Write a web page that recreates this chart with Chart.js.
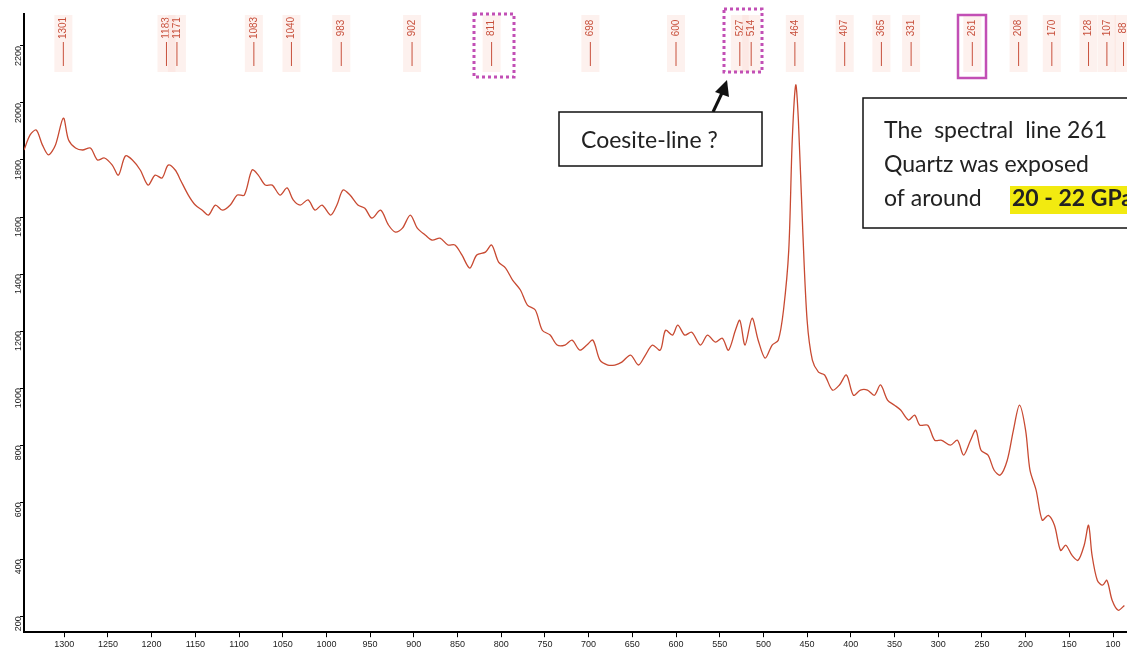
<!DOCTYPE html>
<html><head><meta charset="utf-8">
<script src="https://cdn.jsdelivr.net/npm/chart.js@4"></script>
<style>body{margin:0;background:#fff}canvas{display:block}</style>
</head><body>
<canvas id="c" width="1127" height="652"></canvas>
<script>
// spectrum trace
const wavenumbers = [1346,1339,1332,1325,1318,1310,1301,1295,1287,1279,1270,1262,1254,1245,1238,1230,1222,1213,1204,1196,1188,1181,1173,1167,1158,1150,1142,1135,1127,1119,1110,1102,1094,1085,1078,1070,1062,1053,1045,1038,1030,1021,1013,1005,995,988,981,973,964,956,948,938,929,921,913,904,896,887,879,870,861,853,845,836,828,818,811,803,795,787,778,770,761,753,744,736,727,719,710,702,695,687,678,670,662,652,643,635,627,618,612,604,598,590,582,572,564,555,547,540,532,527,521,513,506,498,490,483,477,471,467,463,460,455,450,444,437,430,421,413,405,397,389,381,373,366,358,350,343,334,327,321,312,304,296,286,278,271,263,257,251,243,236,229,221,214,207,200,195,188,181,174,167,160,154,147,140,133,128,124,118,112,107,101,94,87];
const intensity = [1835,1888,1905,1853,1818,1853,1947,1870,1842,1835,1842,1800,1807,1782,1747,1814,1800,1765,1712,1747,1737,1782,1765,1730,1677,1642,1624,1607,1642,1624,1642,1677,1677,1765,1747,1712,1712,1677,1702,1660,1642,1660,1624,1642,1607,1642,1695,1677,1642,1631,1596,1624,1572,1547,1561,1607,1561,1537,1519,1526,1502,1502,1467,1421,1467,1477,1502,1442,1421,1379,1344,1291,1274,1203,1186,1151,1151,1168,1133,1151,1168,1098,1081,1081,1091,1116,1081,1116,1151,1133,1203,1186,1221,1186,1196,1151,1186,1161,1175,1133,1203,1238,1151,1245,1168,1105,1151,1168,1274,1484,1870,2063,1940,1554,1238,1098,1056,1046,993,1011,1046,975,993,993,975,1011,958,940,923,888,905,870,870,817,817,800,817,765,817,852,782,765,712,695,747,852,940,852,712,642,537,554,519,431,449,414,396,449,519,414,326,309,326,256,221,238];
const peakLabels = [1301,1183,1171,1083,1040,983,902,811,698,600,527,514,464,407,365,331,261,208,170,128,107,88];
const xTicks = [1300,1250,1200,1150,1100,1050,1000,950,900,850,800,750,700,650,600,550,500,450,400,350,300,250,200,150,100];
const yTicks = [200,400,600,800,1000,1200,1400,1600,1800,2000,2200];

const peakPlugin = {
  id: 'peaks',
  afterDatasetsDraw(chart) {
    const c = chart.ctx, xs = chart.scales.x;
    c.save();
    c.font = '10px "Liberation Sans"';
    c.textAlign = 'center'; c.textBaseline = 'middle';
    peakLabels.forEach(p => {
      const x = xs.getPixelForValue(p);
      c.fillStyle = 'rgba(250,220,212,0.4)';
      c.fillRect(x - 9, 15, 18, 57);
      c.strokeStyle = '#c8503c'; c.lineWidth = 1;
      c.beginPath(); c.moveTo(x, 42); c.lineTo(x, 66); c.stroke();
      c.save(); c.translate(x, 28); c.rotate(-Math.PI / 2);
      c.fillStyle = '#c8503c'; c.fillText(String(p), 0, 0); c.restore();
    });
    // annotation boxes
    c.strokeStyle = '#c24fb5'; c.lineWidth = 3; c.setLineDash([3, 3]);
    c.strokeRect(474, 14, 40, 63);
    c.strokeRect(724, 9, 38, 63);
    c.setLineDash([]); c.lineWidth = 2.5;
    c.strokeRect(958, 15, 28, 63);
    // arrow
    c.strokeStyle = '#111'; c.fillStyle = '#111'; c.lineWidth = 3;
    c.beginPath(); c.moveTo(713, 112); c.lineTo(722, 93); c.stroke();
    c.beginPath(); c.moveTo(727, 80); c.lineTo(715, 92); c.lineTo(729, 97); c.closePath(); c.fill();
    // text boxes
    c.lineWidth = 1.5; c.fillStyle = '#fff';
    c.fillRect(559, 112, 203, 54); c.strokeRect(559, 112, 203, 54);
    c.fillRect(863, 98, 270, 130); c.strokeRect(863, 98, 270, 130);
    c.fillStyle = '#222'; c.font = '23px Lato'; c.textAlign = 'left'; c.textBaseline = 'alphabetic';
    c.fillText('Coesite-line ?', 581, 148);
    c.fillText('The  spectral  line 261', 884, 138);
    c.fillText('Quartz was exposed', 884, 172);
    c.fillText('of around', 884, 206);
    c.font = 'bold 23px Lato';
    const hx = 1010, txt = '20 - 22 GPa';
    c.fillStyle = '#f2ea10'; c.fillRect(hx, 186, c.measureText(txt).width + 4, 28);
    c.fillStyle = '#222'; c.fillText(txt, hx + 2, 206);
    c.restore();
  }
};

new Chart(document.getElementById('c'), {
  type: 'line',
  data: { datasets: [{
    data: wavenumbers.map((w, i) => ({ x: w, y: intensity[i] })),
    borderColor: '#c84a32', borderWidth: 1.3, pointRadius: 0, tension: 0.3, fill: false
  }] },
  options: {
    responsive: false, animation: false,
    layout: { padding: { top: 14, right: 0, left: 0, bottom: 0 } },
    plugins: { legend: { display: false }, tooltip: { enabled: false } },
    scales: {
      x: {
        type: 'linear', reverse: true, min: 84, max: 1346,
        afterBuildTicks: s => { s.ticks = xTicks.map(v => ({ value: v })); },
        grid: { drawOnChartArea: false, tickLength: 5, color: '#000' },
        border: { color: '#000', width: 2 },
        ticks: { color: '#222', font: { size: 9, family: 'Liberation Sans' }, maxRotation: 0, autoSkip: false, padding: 2, callback: v => String(v) }
      },
      y: {
        min: 144, max: 2312,
        afterBuildTicks: s => { s.ticks = yTicks.map(v => ({ value: v })); },
        afterFit: s => { s.width = 24; },
        grid: { drawOnChartArea: false, tickLength: 4, color: '#000' },
        border: { color: '#000', width: 2 },
        ticks: { color: '#222', font: { size: 9, family: 'Liberation Sans' }, minRotation: 90, maxRotation: 90, autoSkip: false, padding: 1, callback: v => String(v) }
      }
    }
  },
  plugins: [peakPlugin]
});
</script>
</body></html>
